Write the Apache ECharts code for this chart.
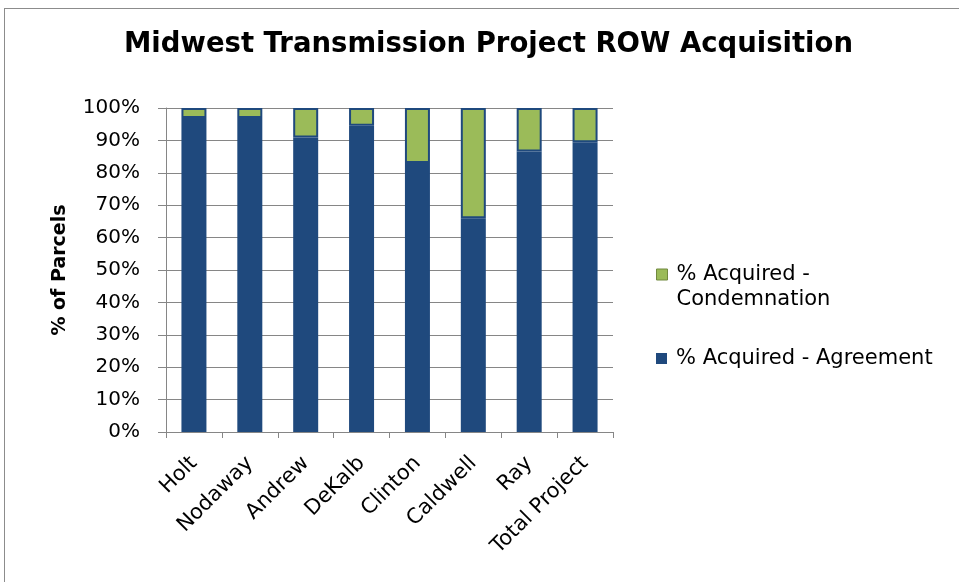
<!DOCTYPE html>
<html>
<head>
<meta charset="utf-8">
<script src="https://cdn.jsdelivr.net/npm/echarts@6/dist/echarts.min.js"></script>
<style>
  html, body { margin: 0; padding: 0; background: #ffffff; overflow: hidden; }
  #frame { position: absolute; left: 4px; top: 8px; width: 970px; height: 590px; border: 1px solid #8c8c8c; }
  #chart { position: absolute; left: 0; top: 0; width: 959px; height: 582px; }
</style>
</head>
<body>
<div id="frame"></div>
<div id="chart"></div>
<script>
const COUNTIES = ["Holt", "Nodaway", "Andrew", "DeKalb", "Clinton", "Caldwell", "Ray", "Total Project"];
const AGREEMENT = [96.9, 96.9, 90.9, 94.5, 83.0, 66.0, 86.6, 89.4];
const CONDEMNATION = [3.1, 3.1, 9.1, 5.5, 17.0, 34.0, 13.4, 10.6];
const Y_TICKS = [0, 10, 20, 30, 40, 50, 60, 70, 80, 90, 100];

const NAME_AGREEMENT = "% Acquired - Agreement";
const NAME_CONDEMNATION = "% Acquired - Condemnation";

const BLUE = "#1F497D";
const GREEN = "#9BBB59";
const FONT = "DejaVu Sans";

const chart = echarts.init(document.getElementById("chart"));

const legendText = { fontFamily: FONT, fontSize: 21, color: "#000000", lineHeight: 25, padding: [0, 0, 0, 4] };

const option = {
  backgroundColor: "transparent",
  animation: false,
  title: {
    text: "Midwest Transmission Project ROW Acquisition",
    left: 119,
    top: 26,
    textStyle: { fontFamily: FONT, fontWeight: "bold", fontSize: 27.5, color: "#000000" }
  },
  legend: [
    {
      orient: "vertical",
      left: 656,
      top: 237,
      padding: 0,
      icon: "rect",
      itemWidth: 11,
      itemHeight: 11,
      selectedMode: false,
      data: [{
        name: NAME_CONDEMNATION,
        itemStyle: { color: GREEN, borderColor: "#71893F", borderWidth: 1 }
      }],
      // leading blank line keeps the first text line level with the swatch
      formatter: () => "\n% Acquired -\nCondemnation",
      textStyle: legendText
    },
    {
      orient: "vertical",
      left: 656,
      top: 346,
      padding: 0,
      icon: "rect",
      itemWidth: 11,
      itemHeight: 11,
      selectedMode: false,
      data: [{ name: NAME_AGREEMENT, itemStyle: { color: BLUE } }],
      textStyle: legendText
    }
  ],
  grid: { left: 166, right: 346, top: 108, bottom: 150 },
  xAxis: {
    type: "category",
    data: COUNTIES,
    axisLine: { lineStyle: { color: "#868686", width: 1 } },
    axisTick: { show: true, length: 6, alignWithLabel: false, lineStyle: { color: "#868686" } },
    axisLabel: {
      rotate: 45,
      interval: 0,
      margin: 28,
      fontFamily: FONT,
      fontSize: 21,
      color: "#000000"
    }
  },
  yAxis: {
    type: "value",
    min: Y_TICKS[0],
    max: Y_TICKS[Y_TICKS.length - 1],
    interval: 10,
    name: "% of Parcels",
    nameLocation: "middle",
    nameGap: 96,
    nameTextStyle: { fontFamily: FONT, fontWeight: "bold", fontSize: 19, color: "#000000" },
    axisLine: { show: true, lineStyle: { color: "#868686" } },
    axisTick: { show: true, inside: false, length: 8, lineStyle: { color: "#868686" } },
    splitLine: { show: true, lineStyle: { color: "#868686", width: 1 } },
    axisLabel: {
      margin: 26,
      fontFamily: FONT,
      fontSize: 20,
      color: "#000000",
      formatter: v => v + "%"
    }
  },
  series: [
    {
      name: NAME_AGREEMENT,
      type: "bar",
      stack: "total",
      barWidth: 25,
      data: AGREEMENT,
      itemStyle: { color: BLUE }
    },
    {
      name: NAME_CONDEMNATION,
      type: "bar",
      stack: "total",
      barWidth: 25,
      data: CONDEMNATION,
      itemStyle: { color: GREEN, borderColor: BLUE, borderWidth: 2 }
    }
  ]
};

chart.setOption(option);
</script>
</body>
</html>
